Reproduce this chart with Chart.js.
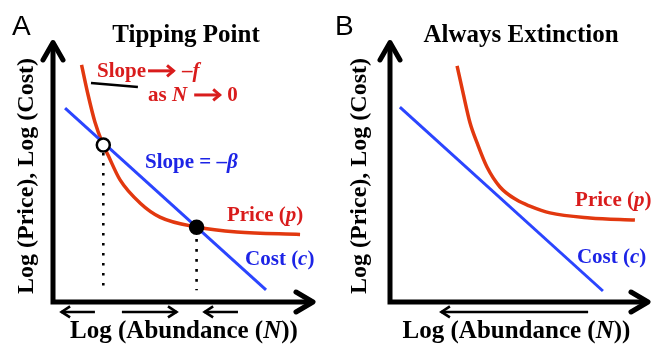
<!DOCTYPE html>
<html lang="en">
<head>
<meta charset="UTF-8" />
<title>Tipping Point / Always Extinction</title>
<script src="https://cdn.jsdelivr.net/npm/chart.js"></script>
<style>
  html, body { margin: 0; padding: 0; background: #fff; }
  .wrap { position: relative; width: 655px; height: 346px; }
  canvas { position: absolute; top: 0; }
  #chart-a { left: 0; }
  #chart-b { left: 327px; }
</style>
</head>
<body>
<div class="wrap">
  <canvas id="chart-a" width="327" height="346"></canvas>
  <canvas id="chart-b" width="328" height="346"></canvas>
</div>

<script>
  // ---- values (log units, 0..10 on both axes) ----
  // Panel A: tipping point
  const priceA_logN = [1.09, 1.34, 1.60, 1.87, 2.10, 2.56, 3.32, 4.08, 5.50, 7.02, 9.43];
  const priceA_logP = [9.05, 7.90, 6.87, 6.11, 5.61, 4.66, 3.78, 3.24, 2.86, 2.67, 2.58];
  const costA_logN  = [0.46, 8.13];
  const costA_logC  = [7.40, 0.46];
  const eqA_logN    = [1.92, 5.48];   // unstable (open), stable (filled)
  const eqA_logP    = [5.99, 2.85];
  const leaderA_logN = [1.45, 3.24];
  const leaderA_logP = [8.36, 8.21];
  const flowA_from  = [1.60, 2.63, 7.06];
  const flowA_to    = [0.27, 4.77, 5.73];

  // Panel B: always extinction
  const priceB_logN = [2.58, 2.81, 3.08, 3.35, 3.73, 4.23, 4.88, 5.38, 6.15, 7.69, 9.42];
  const priceB_logP = [9.01, 7.98, 6.83, 6.07, 5.15, 4.39, 3.89, 3.66, 3.40, 3.21, 3.13];
  const costB_logN  = [0.38, 8.19];
  const costB_logC  = [7.44, 0.42];
  const flowB_from  = [7.62];
  const flowB_to    = [1.92];

  const RED_LINE = '#e2380f';
  const RED_TXT = '#d91c1c';
  const BLUE_LINE = '#2b45ff';
  const BLUE_TXT = '#1d24e6';
  const SERIF = '"Liberation Serif", "Times New Roman", serif';

  const pts = (xs, ys) => xs.map((x, i) => ({ x, y: ys[i] }));

  function arrow(ctx, x1, x2, y, lw, head, half, color) {
    const d = Math.sign(x2 - x1);
    ctx.save();
    ctx.strokeStyle = color;
    ctx.lineWidth = lw;
    ctx.beginPath();
    ctx.moveTo(x1, y);
    ctx.lineTo(x2 - d * 1, y);
    ctx.stroke();
    ctx.beginPath();
    ctx.moveTo(x2 - d * head, y - half);
    ctx.lineTo(x2 - d * 1.5, y);
    ctx.lineTo(x2 - d * head, y + half);
    ctx.stroke();
    ctx.restore();
  }

  // text made of upright / italic parts, with drawn arrows in between
  function richText(ctx, parts, x, y, size, color) {
    let cx = x;
    ctx.fillStyle = color;
    ctx.textBaseline = 'alphabetic';
    ctx.textAlign = 'left';
    for (const p of parts) {
      if (p.arrow) {
        arrow(ctx, cx + p.l, cx + p.l + p.arrow, y - size * 0.29, 3, 8, 5.5, color);
        cx += p.l + p.arrow + p.r;
        continue;
      }
      const t = typeof p === 'string' ? p : p.t;
      ctx.font = (p.it ? 'italic ' : '') + 'bold ' + size + 'px ' + SERIF;
      ctx.fillText(t, cx, y);
      cx += ctx.measureText(t).width;
    }
    return cx - x;
  }

  function textWidth(ctx, parts, size) {
    let w = 0;
    for (const p of parts) {
      const t = typeof p === 'string' ? p : p.t;
      ctx.font = (p.it ? 'italic ' : '') + 'bold ' + size + 'px ' + SERIF;
      w += ctx.measureText(t).width;
    }
    return w;
  }

  function sketchPlugin(cfg) {
    return {
      id: 'sketch',
      afterDraw(chart) {
        const { ctx, chartArea: a, scales } = chart;
        const X = v => scales.x.getPixelForValue(v);
        const Y = v => scales.y.getPixelForValue(v);
        ctx.save();

        // axes with arrow heads
        ctx.strokeStyle = '#000';
        ctx.lineWidth = 5;
        ctx.lineJoin = 'miter';
        ctx.beginPath();
        ctx.moveTo(a.left, a.top + 3);
        ctx.lineTo(a.left, a.bottom);
        ctx.lineTo(a.right - 3, a.bottom);
        ctx.stroke();
        ctx.lineJoin = 'round';
        ctx.lineCap = 'round';
        ctx.beginPath();
        ctx.moveTo(a.left - 10, a.top + 20);
        ctx.lineTo(a.left, a.top + 2.5);
        ctx.lineTo(a.left + 10, a.top + 20);
        ctx.moveTo(a.right - 19, a.bottom - 10);
        ctx.lineTo(a.right - 2, a.bottom);
        ctx.lineTo(a.right - 19, a.bottom + 10);
        ctx.stroke();
        ctx.lineCap = 'butt';
        ctx.lineJoin = 'miter';

        // direction of abundance change below the N axis
        cfg.flowFrom.forEach((f, i) => {
          arrow(ctx, X(f), X(cfg.flowTo[i]), Y(-0.38), 2.6, 10, 5.5, '#000');
        });

        // panel letter and title
        ctx.fillStyle = '#000';
        ctx.textBaseline = 'alphabetic';
        ctx.textAlign = 'left';
        ctx.font = '28px "Liberation Sans", Arial, sans-serif';
        ctx.fillText(cfg.letter, cfg.letterX, 35);
        ctx.textAlign = 'center';
        ctx.font = 'bold 25px ' + SERIF;
        ctx.fillText(cfg.title, cfg.titleX, 42);

        // axis titles
        const xParts = ['Log (Abundance (', { t: 'N', it: 1 }, '))'];
        const xw = textWidth(ctx, xParts, 25);
        richText(ctx, xParts, cfg.xLabelX - xw / 2, 338, 25, '#000');

        ctx.save();
        ctx.translate(cfg.yLabelX, 176);
        ctx.rotate(-Math.PI / 2);
        ctx.textAlign = 'center';
        ctx.fillStyle = '#000';
        ctx.font = 'bold 24px ' + SERIF;
        ctx.fillText('Log (Price), Log (Cost)', 0, 0);
        ctx.restore();

        // in-plot notes
        cfg.notes.forEach(n => richText(ctx, n.parts, X(n.x), Y(n.y), 21, n.color));

        ctx.restore();
      }
    };
  }

  function makePanel(id, padding, datasets, cfg) {
    return new Chart(document.getElementById(id), {
      type: 'scatter',
      data: { datasets },
      options: {
        responsive: false,
        animation: false,
        events: [],
        layout: { padding },
        scales: {
          x: { type: 'linear', min: 0, max: 10, display: false },
          y: { type: 'linear', min: 0, max: 10, display: false }
        },
        plugins: { legend: { display: false }, tooltip: { enabled: false } }
      },
      plugins: [sketchPlugin(cfg)]
    });
  }

  const curve = (data, color, width, extra) => Object.assign({
    data, showLine: true, borderColor: color, borderWidth: width,
    pointRadius: 0, fill: false
  }, extra || {});

  const drop = (x, yTop) => curve([{ x, y: yTop }, { x, y: 0.45 }], '#000', 2.6,
    { borderDash: [2.6, 7.4] });

  // Panel A
  makePanel('chart-a', { left: 53, right: 12, top: 40, bottom: 44 }, [
    {
      data: pts(eqA_logN, eqA_logP), showLine: false,
      pointRadius: 6.5, pointBorderWidth: 2.5,
      pointBackgroundColor: ['#fff', '#000'], pointBorderColor: '#000'
    },
    curve(pts(costA_logN, costA_logC), BLUE_LINE, 3),
    curve(pts(priceA_logN, priceA_logP), RED_LINE, 3.5, { cubicInterpolationMode: 'monotone' }),
    curve(pts(leaderA_logN, leaderA_logP), '#000', 2.5),
    drop(eqA_logN[0], eqA_logP[0] - 0.3),
    drop(eqA_logN[1], eqA_logP[1] - 0.45)
  ], {
    letter: 'A', letterX: 12, title: 'Tipping Point', titleX: 186,
    xLabelX: 184, yLabelX: 33,
    flowFrom: flowA_from, flowTo: flowA_to,
    notes: [
      { x: 1.68, y: 8.59, color: RED_TXT,
        parts: ['Slope', { arrow: 27, l: 2, r: 7 }, '–', { t: 'f', it: 1 }] },
      { x: 3.63, y: 7.67, color: RED_TXT,
        parts: ['as ', { t: 'N', it: 1 }, { arrow: 27, l: 7, r: 6 }, '0'] },
      { x: 3.51, y: 5.11, color: BLUE_TXT, parts: ['Slope = –', { t: 'β', it: 1 }] },
      { x: 6.64, y: 3.09, color: RED_TXT, parts: ['Price (', { t: 'p', it: 1 }, ')'] },
      { x: 7.33, y: 1.41, color: BLUE_TXT, parts: ['Cost (', { t: 'c', it: 1 }, ')'] }
    ]
  });

  // Panel B
  makePanel('chart-b', { left: 63, right: 5, top: 40, bottom: 44 }, [
    curve(pts(costB_logN, costB_logC), BLUE_LINE, 3),
    curve(pts(priceB_logN, priceB_logP), RED_LINE, 3.5, { cubicInterpolationMode: 'monotone' })
  ], {
    letter: 'B', letterX: 8, title: 'Always Extinction', titleX: 194,
    xLabelX: 189.5, yLabelX: 39,
    flowFrom: flowB_from, flowTo: flowB_to,
    notes: [
      { x: 7.12, y: 3.66, color: RED_TXT, parts: ['Price (', { t: 'p', it: 1 }, ')'] },
      { x: 7.19, y: 1.49, color: BLUE_TXT, parts: ['Cost (', { t: 'c', it: 1 }, ')'] }
    ]
  });
</script>
</body>
</html>
